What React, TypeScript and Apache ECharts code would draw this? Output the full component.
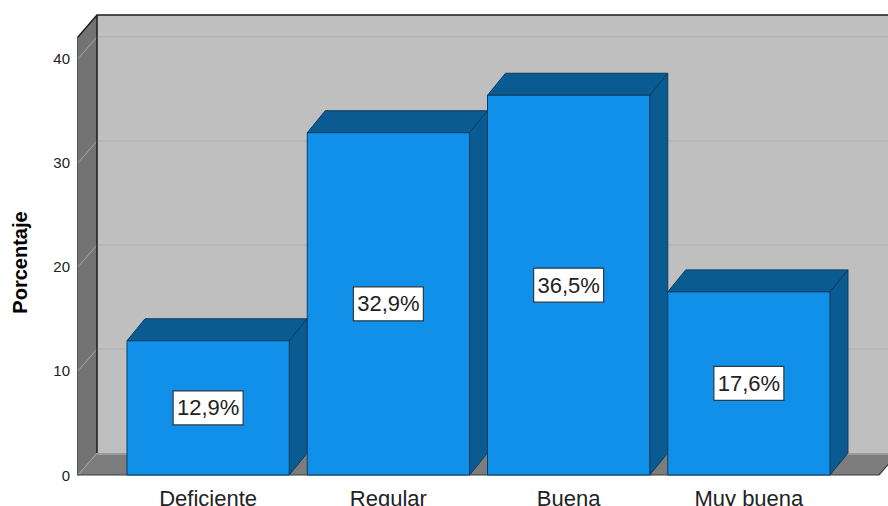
import React, { useEffect, useRef } from "react";
import * as echarts from "echarts";

const categories = ["Deficiente", "Regular", "Buena", "Muy buena"];
const percentages = [12.9, 32.9, 36.5, 17.6];
const valueLabels = ["12,9%", "32,9%", "36,5%", "17,6%"];
const yTicks = [0, 10, 20, 30, 40];
const yTop = 42.1;

const DX = 18;
const DY = 22;
const WALL_FRONT_X = 78;
const AXIS_END_X = 879;
const PAGE_RIGHT = 900;
const BAR_RATIO = 0.9;

const FONT = '"Liberation Sans", Arial, sans-serif';

const renderFrame = (_p: any, api: any) => {
  const y0 = api.coord([0, 0])[1];
  const yT = api.coord([0, yTop])[1];
  const backX = WALL_FRONT_X + DX + 1;
  const children: any[] = [];
  children.push({
    type: "rect",
    shape: { x: backX, y: yT - DY, width: PAGE_RIGHT - backX, height: y0 - yT },
    style: { fill: "#bfbfbf" },
  });
  children.push({
    type: "polygon",
    shape: { points: [[WALL_FRONT_X, y0], [AXIS_END_X, y0], [AXIS_END_X + DX + 1, y0 - DY], [backX, y0 - DY]] },
    style: { fill: "#7d7d7d" },
  });
  children.push({
    type: "polygon",
    shape: { points: [[WALL_FRONT_X, yT], [backX, yT - DY], [backX, y0 - DY], [WALL_FRONT_X, y0]] },
    style: { fill: "#737373" },
  });
  yTicks.forEach((t) => {
    const y = api.coord([0, t])[1];
    if (t > 0) {
      children.push({
        type: "line",
        shape: { x1: backX, y1: y - DY, x2: PAGE_RIGHT, y2: y - DY },
        style: { stroke: "#b4b4b4", lineWidth: 1.5 },
      });
    }
    children.push({
      type: "line",
      shape: { x1: WALL_FRONT_X, y1: y, x2: backX, y2: y - DY },
      style: { stroke: "#a6a6a6", lineWidth: 1 },
    });
  });
  children.push({
    type: "line",
    shape: { x1: backX, y1: y0 - DY + 1, x2: PAGE_RIGHT, y2: y0 - DY + 1 },
    style: { stroke: "#9a9a9a", lineWidth: 2 },
  });
  children.push({
    type: "polyline",
    shape: { points: [[WALL_FRONT_X, yT], [backX, yT - DY], [PAGE_RIGHT, yT - DY]] },
    style: { stroke: "#1c1c1c", lineWidth: 1.5, fill: "none" },
  });
  children.push({
    type: "line",
    shape: { x1: backX, y1: yT - DY, x2: backX, y2: y0 - DY },
    style: { stroke: "#1c1c1c", lineWidth: 1.5 },
  });
  children.push({
    type: "polyline",
    shape: { points: [[WALL_FRONT_X, y0], [AXIS_END_X, y0], [AXIS_END_X + DX + 1, y0 - DY]] },
    style: { stroke: "#3a3a3a", lineWidth: 1.2, fill: "none" },
  });
  return { type: "group", children };
};

const renderBar = (params: any, api: any) => {
  const idx = api.value(0);
  const val = api.value(1);
  const [cx, top] = api.coord([idx, val]);
  const y0 = api.coord([idx, 0])[1];
  const w = api.size([1, 0])[0] * BAR_RATIO;
  const l = cx - w / 2;
  const r = cx + w / 2;
  const edge = { stroke: "#0b3c60", lineWidth: 1 };
  const lbl = valueLabels[params.dataIndex];
  const boxW = 70;
  const boxH = 34;
  const my = (top + y0) / 2;
  return {
    type: "group",
    children: [
      {
        type: "polygon",
        shape: { points: [[l, top], [l + DX, top - DY], [r + DX, top - DY], [r, top]] },
        style: { fill: "#0a5b92", ...edge },
      },
      {
        type: "polygon",
        shape: { points: [[r, top], [r + DX, top - DY], [r + DX, y0 - DY], [r, y0]] },
        style: { fill: "#0a5b92", ...edge },
      },
      {
        type: "rect",
        shape: { x: l, y: top, width: w, height: y0 - top },
        style: { fill: "#1190e9", ...edge },
      },
      {
        type: "rect",
        shape: { x: cx - boxW / 2, y: my - boxH / 2, width: boxW, height: boxH },
        style: { fill: "#ffffff", stroke: "#2a3a46", lineWidth: 1.2 },
      },
      {
        type: "text",
        x: cx,
        y: my,
        style: {
          text: lbl,
          fill: "#222222",
          font: `22px ${FONT}`,
          align: "center",
          verticalAlign: "middle",
        },
      },
    ],
  };
};

export default function App() {
  const ref = useRef<HTMLDivElement>(null);
  useEffect(() => {
    document.body.style.margin = "0";
    document.body.style.overflow = "hidden";
    const chart = echarts.init(ref.current!, undefined, { renderer: "svg" });
    chart.setOption({
      animation: false,
      backgroundColor: "#ffffff",
      grid: { left: 118, right: 49, top: 37, bottom: 31, outerBoundsMode: "none" },
      xAxis: {
        type: "category",
        data: categories,
        axisLine: { show: false },
        axisTick: { show: false },
        axisLabel: { color: "#222222", fontFamily: FONT, fontSize: 22, margin: 12 },
      },
      yAxis: {
        type: "value",
        min: 0,
        max: yTop,
        offset: 40,
        name: "Porcentaje",
        nameLocation: "middle",
        nameGap: 48,
        nameRotate: 90,
        nameTextStyle: { color: "#000000", fontFamily: FONT, fontSize: 20, fontWeight: "bold", padding: [0, 13, 0, 0] },
        axisLine: { show: true, lineStyle: { color: "#1c1c1c", width: 1.5 } },
        axisTick: { show: false },
        splitLine: { show: false },
        axisLabel: { color: "#222222", fontFamily: FONT, fontSize: 15, margin: 8, customValues: yTicks },
      },
      series: [
        { type: "custom", name: "Marco", z: 1, silent: true, data: [[0, 0]], renderItem: renderFrame },
        {
          type: "custom",
          name: "Porcentaje",
          z: 2,
          silent: true,
          data: percentages.map((v, i) => [i, v]),
          encode: { x: 0, y: 1 },
          renderItem: renderBar,
        },
      ],
    });
    return () => chart.dispose();
  }, []);
  return <div ref={ref} style={{ width: 888, height: 506 }} />;
}
